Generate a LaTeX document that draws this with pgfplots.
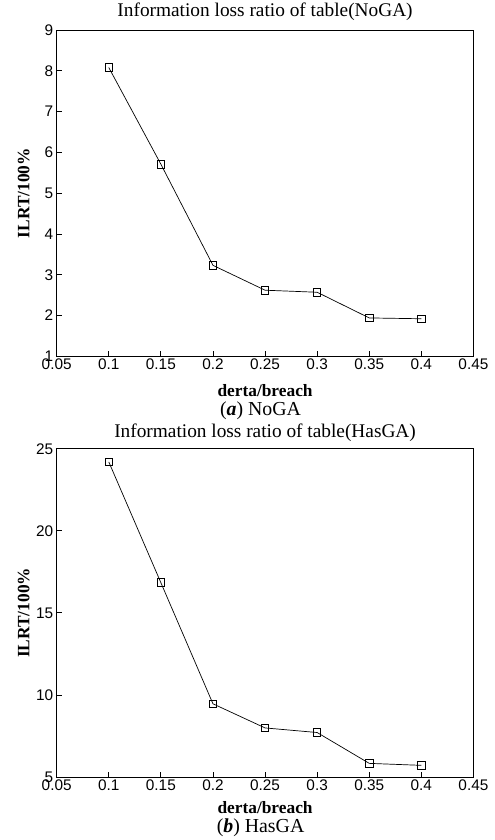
\documentclass[border=0pt]{standalone}
\usepackage{fontspec}
\setmainfont{Liberation Serif}
\setsansfont{Liberation Sans}
\usepackage{pgfplots}
\pgfplotsset{compat=1.18}
\begin{document}
\begin{tikzpicture}
\path (0bp,0bp) rectangle (497bp,-840bp);
\pgfplotsset{
  myax/.style={
    scale only axis,
    width=419bp,
    xmin=0.05, xmax=0.45,
    xtick={0.05,0.1,...,0.45},
    tick align=inside,
    xtick pos=bottom, ytick pos=left,
    major tick length=5bp,
    axis line style={line width=1bp},
    every tick/.style={line width=0.8bp, black},
    tick label style={font=\sffamily\fontsize{15.5}{15.5}\selectfont},
    /pgf/number format/assume math mode=true,
    xticklabel style={yshift=1bp},
    xlabel={\textbf{derta/breach}},
    ylabel={\textbf{ILRT/100\%}},
    label style={font=\fontsize{17.5}{17.5}\selectfont},
    xlabel style={at={(axis description cs:0.5,0)}, anchor=center},
    ylabel style={at={(axis description cs:-0.079,0.5)}, anchor=center, rotate=0},
    title style={font=\fontsize{19.5}{19.5}\selectfont, at={(axis description cs:0.5,1)}, anchor=center},
    xticklabel={\pgfmathprintnumber[fixed,precision=2]{\tick}},
  },
  myplot/.style={black, line width=0.7bp, mark=square, mark size=3.8bp, mark options={line width=0.9bp}},
}
\begin{axis}[myax, at={(57bp,-356bp)}, anchor=south west,
  height=328bp, ymin=1, ymax=9, ytick={1,...,9},
  xlabel style={yshift=-34bp}, title style={yshift=12bp},
  title={Information loss ratio of table(NoGA)}]
\addplot[myplot] coordinates {
(0.10,8.08) (0.15,5.71) (0.20,3.23) (0.25,2.62) (0.30,2.57) (0.35,1.94) (0.40,1.92)};
\end{axis}
\node[font=\fontsize{20}{20}\selectfont] at (262bp,-411bp) {(\textbf{\textit{a}}) NoGA};
\begin{axis}[myax, at={(57bp,-779bp)}, anchor=south west,
  height=330bp, ymin=5, ymax=25, ytick={5,10,...,25},
  xlabel style={yshift=-31bp}, title style={yshift=10bp},
  title={Information loss ratio of table(HasGA)}]
\addplot[myplot] coordinates {
(0.10,24.2) (0.15,16.84) (0.20,9.46) (0.25,7.99) (0.30,7.71) (0.35,5.83) (0.40,5.71)};
\end{axis}
\node[font=\fontsize{20}{20}\selectfont] at (262bp,-830bp) {(\textbf{\textit{b}}) HasGA};
\end{tikzpicture}
\end{document}
